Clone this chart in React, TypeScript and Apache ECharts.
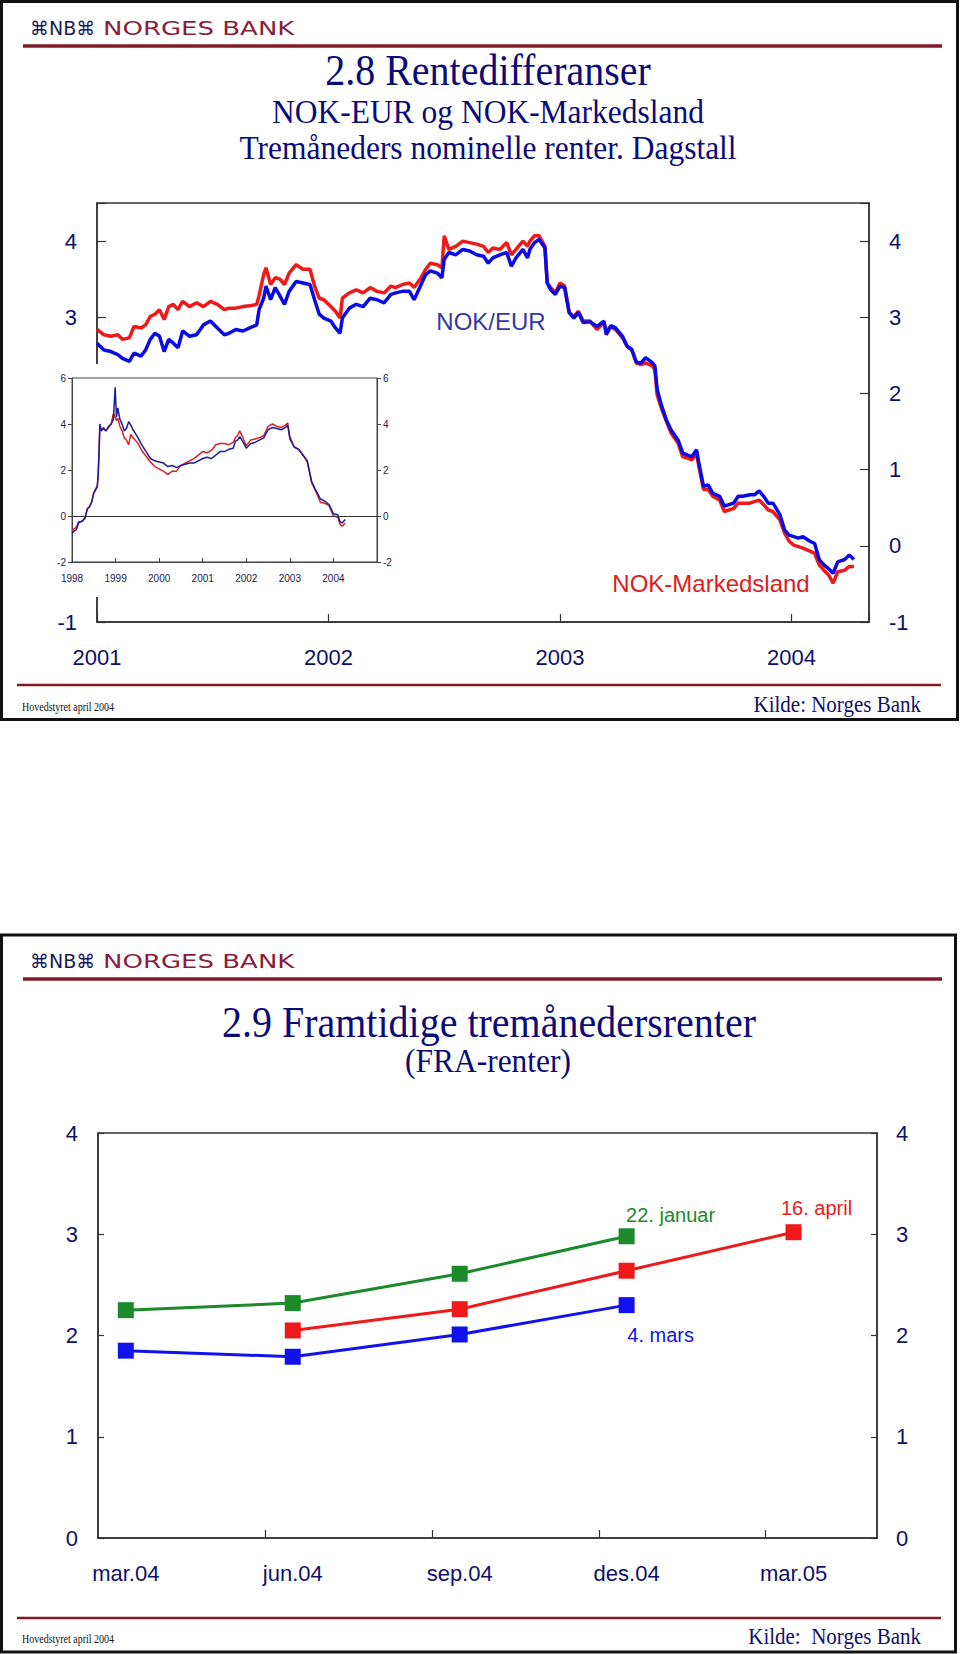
import React, { useEffect, useRef } from 'react';
import * as echarts from 'echarts';

// ---------- Chart 2.8 main panel (tremåneders rentedifferanse, dagstall) ----------
const mainYears = [
  2001.00, 2001.03, 2001.06, 2001.09, 2001.11, 2001.14, 2001.16, 2001.19, 2001.21, 2001.23,
  2001.25, 2001.27, 2001.29, 2001.31, 2001.33, 2001.35, 2001.37, 2001.40, 2001.43, 2001.46,
  2001.49, 2001.52, 2001.55, 2001.57, 2001.60, 2001.63, 2001.66, 2001.69, 2001.70, 2001.72,
  2001.73, 2001.75, 2001.77, 2001.79, 2001.81, 2001.83, 2001.86, 2001.89, 2001.92, 2001.94,
  2001.96, 2001.98, 2002.01, 2002.03, 2002.05, 2002.06, 2002.09, 2002.12, 2002.15, 2002.18,
  2002.21, 2002.24, 2002.27, 2002.29, 2002.32, 2002.35, 2002.37, 2002.40, 2002.42, 2002.44,
  2002.47, 2002.49, 2002.50, 2002.52, 2002.55, 2002.58, 2002.61, 2002.64, 2002.67, 2002.69,
  2002.71, 2002.74, 2002.77, 2002.79, 2002.81, 2002.84, 2002.86, 2002.87, 2002.89, 2002.91,
  2002.935, 2002.945, 2002.96, 2002.98, 2003.00, 2003.02, 2003.04, 2003.06, 2003.08, 2003.10,
  2003.13, 2003.16, 2003.19, 2003.20, 2003.22, 2003.24, 2003.27, 2003.29, 2003.31, 2003.33,
  2003.35, 2003.37, 2003.40, 2003.41, 2003.42, 2003.44, 2003.46, 2003.48, 2003.51, 2003.53,
  2003.55, 2003.57, 2003.59, 2003.60, 2003.62, 2003.64, 2003.66, 2003.69, 2003.71, 2003.73,
  2003.75, 2003.77, 2003.79, 2003.82, 2003.84, 2003.86, 2003.88, 2003.90, 2003.92, 2003.95,
  2003.97, 2003.99, 2004.01, 2004.03, 2004.05, 2004.08, 2004.10, 2004.12, 2004.14, 2004.16,
  2004.18, 2004.20, 2004.23, 2004.25, 2004.27,
];
const mainMarkedsland = [
  2.84, 2.77, 2.75, 2.77, 2.71, 2.73, 2.88, 2.86, 2.90, 3.01,
  3.04, 3.10, 2.97, 3.14, 3.17, 3.10, 3.21, 3.14, 3.19, 3.14,
  3.21, 3.17, 3.10, 3.12, 3.12, 3.14, 3.15, 3.17, 3.28, 3.56,
  3.65, 3.43, 3.52, 3.50, 3.43, 3.58, 3.69, 3.63, 3.63, 3.41,
  3.25, 3.23, 3.14, 3.08, 2.99, 3.25, 3.32, 3.36, 3.32, 3.39,
  3.34, 3.32, 3.41, 3.39, 3.43, 3.45, 3.39, 3.52, 3.63, 3.71,
  3.69, 3.65, 4.07, 3.89, 3.93, 4.00, 3.98, 3.96, 3.93, 3.85,
  3.91, 3.89, 3.98, 3.82, 3.89, 4.00, 3.93, 4.00, 4.07, 4.07,
  3.93, 3.45, 3.39, 3.32, 3.45, 3.41, 3.06, 3.01, 3.08, 2.95,
  2.95, 2.84, 2.93, 2.82, 2.88, 2.84, 2.73, 2.62, 2.57, 2.40,
  2.38, 2.40, 2.36, 2.31, 1.98, 1.79, 1.63, 1.48, 1.35, 1.17,
  1.15, 1.13, 1.21, 1.04, 0.74, 0.74, 0.65, 0.60, 0.45, 0.47,
  0.49, 0.56, 0.56, 0.56, 0.58, 0.60, 0.54, 0.47, 0.45, 0.34,
  0.17, 0.06, 0.01, -0.01, -0.03, -0.07, -0.10, -0.25, -0.32, -0.38,
  -0.49, -0.34, -0.32, -0.27, -0.27,
];
const mainEur = [
  2.66, 2.57, 2.55, 2.51, 2.46, 2.42, 2.53, 2.49, 2.57, 2.71,
  2.79, 2.75, 2.55, 2.71, 2.66, 2.60, 2.82, 2.75, 2.77, 2.90,
  2.95, 2.86, 2.77, 2.79, 2.84, 2.82, 2.86, 2.90, 3.10, 3.25,
  3.41, 3.23, 3.39, 3.28, 3.17, 3.34, 3.47, 3.45, 3.43, 3.23,
  3.04, 2.99, 2.95, 2.86, 2.79, 2.99, 3.12, 3.17, 3.14, 3.25,
  3.23, 3.19, 3.30, 3.32, 3.34, 3.34, 3.23, 3.43, 3.56, 3.61,
  3.58, 3.52, 3.76, 3.85, 3.82, 3.89, 3.87, 3.82, 3.80, 3.71,
  3.78, 3.82, 3.85, 3.67, 3.78, 3.89, 3.78, 3.89, 3.98, 4.02,
  3.91, 3.45, 3.36, 3.30, 3.41, 3.39, 3.06, 2.99, 3.06, 2.93,
  2.94, 2.88, 2.95, 2.77, 2.89, 2.86, 2.75, 2.62, 2.58, 2.41,
  2.40, 2.47, 2.40, 2.36, 2.05, 1.83, 1.65, 1.52, 1.39, 1.22,
  1.19, 1.17, 1.26, 1.09, 0.78, 0.80, 0.69, 0.65, 0.52, 0.54,
  0.56, 0.65, 0.65, 0.67, 0.67, 0.72, 0.65, 0.56, 0.56, 0.41,
  0.21, 0.14, 0.12, 0.10, 0.12, 0.06, 0.03, -0.18, -0.25, -0.30,
  -0.36, -0.21, -0.18, -0.12, -0.18,
];

// ---------- Chart 2.8 inset (1998-2004) ----------
const insetYears = [
  1998.0, 1998.05, 1998.1, 1998.15, 1998.2, 1998.25, 1998.3, 1998.35, 1998.4, 1998.45,
  1998.5, 1998.55, 1998.58, 1998.6, 1998.62, 1998.64, 1998.67, 1998.72, 1998.78, 1998.84,
  1998.9, 1998.95, 1998.99, 1999.02, 1999.05, 1999.1, 1999.15, 1999.2, 1999.25, 1999.3,
  1999.35, 1999.4, 1999.5, 1999.6, 1999.7, 1999.8, 1999.9, 2000.0, 2000.1, 2000.2,
  2000.3, 2000.4, 2000.5, 2000.6, 2000.7, 2000.8, 2000.9, 2001.0, 2001.1, 2001.2,
  2001.3, 2001.4, 2001.5, 2001.6, 2001.7, 2001.75, 2001.8, 2001.85, 2001.9, 2002.0,
  2002.1, 2002.2, 2002.3, 2002.4, 2002.5, 2002.6, 2002.7, 2002.8, 2002.9, 2002.95,
  2003.0, 2003.1, 2003.2, 2003.3, 2003.4, 2003.5, 2003.6, 2003.7, 2003.8, 2003.9,
  2004.0, 2004.1, 2004.15, 2004.2, 2004.27,
];
const insetMarkedsland = [
  -0.65, -0.55, -0.5, -0.25, -0.25, -0.2, -0.05, 0.3, 0.4, 0.6,
  1.0, 1.15, 1.25, 1.7, 2.7, 3.9, 3.75, 3.85, 3.7, 3.85,
  4.0, 4.45, 4.3, 4.15, 4.25, 3.9, 3.7, 3.4, 3.3, 3.1,
  3.55, 3.4, 3.2, 2.85, 2.6, 2.35, 2.15, 2.05, 1.95, 1.8,
  1.95, 1.95, 2.2, 2.3, 2.4, 2.5, 2.65, 2.8, 2.75, 2.85,
  3.1, 3.15, 3.15, 3.1, 3.2, 3.4, 3.5, 3.7, 3.5, 3.05,
  3.3, 3.35, 3.4, 3.5, 3.9, 4.0, 3.9, 3.85, 3.95, 4.05,
  3.45, 3.0, 2.9, 2.65, 2.35, 1.45, 1.05, 0.6, 0.55, 0.45,
  0.0, -0.05, -0.35, -0.45, -0.3,
];
const insetEur = [
  -0.75, -0.65, -0.6, -0.3, -0.25, -0.2, -0.1, 0.3, 0.4, 0.6,
  1.0, 1.2, 1.3, 1.8, 2.8, 4.0, 3.7, 3.8, 3.7, 3.9,
  4.0, 4.2, 5.6, 4.3, 4.7, 4.2, 4.0, 3.7, 3.8, 4.1,
  3.95, 3.75, 3.45, 3.1, 2.8, 2.5, 2.4, 2.35, 2.3, 2.15,
  2.2, 2.1, 2.2, 2.25, 2.3, 2.3, 2.4, 2.5, 2.55, 2.5,
  2.65, 2.8, 2.8, 2.9, 2.95, 3.25, 3.3, 3.45, 3.3, 2.95,
  3.15, 3.2, 3.3, 3.4, 3.75, 3.85, 3.8, 3.75, 3.85, 3.95,
  3.35, 3.0, 2.9, 2.65, 2.4, 1.5, 1.1, 0.75, 0.65, 0.5,
  0.1, 0.05, -0.25, -0.3, -0.15,
];

// ---------- Chart 2.9 (FRA-renter) ----------
const fraMonths = [0.5, 3.5, 6.5, 9.5, 12.5]; // months after 1 March 2004
const fraLabels = ['mar.04', 'jun.04', 'sep.04', 'des.04', 'mar.05'];
const fraQuarterTicks = [3, 6, 9, 12];
const fraJanuar = [2.25, 2.32, 2.61, 2.98, null];
const fraApril = [null, 2.05, 2.26, 2.64, 3.02];
const fraMars = [1.85, 1.79, 2.01, 2.30, null];

const SANS = '"Liberation Sans", Arial, sans-serif';
const SERIF = '"Liberation Serif", "Times New Roman", serif';
const NAVY = '#10106a';
const MAROON = '#7f1a26';

const pairs = (xs: number[], ys: number[]) => {
  const n = Math.min(xs.length, ys.length);
  const out: number[][] = [];
  for (let i = 0; i < n; i++) out.push([xs[i], ys[i]]);
  return out;
};

const intLabel = (v: number) => (Math.abs(v - Math.round(v)) < 1e-9 ? String(Math.round(v)) : '');

function txt(text: string, x: number, y: number, o: any = {}) {
  return {
    type: 'text',
    x,
    y,
    scaleX: o.scaleX ?? 1,
    scaleY: o.scaleY ?? 1,
    z: 20,
    style: {
      text,
      fill: o.fill ?? NAVY,
      fontSize: o.fontSize ?? 20,
      fontFamily: o.fontFamily ?? SERIF,
      textAlign: o.align ?? 'center',
      align: o.align ?? 'center',
      textVerticalAlign: 'middle',
      verticalAlign: 'middle',
    },
  };
}

function logo(y: number, lineY: number) {
  return [
    txt('⌘NB⌘', 30, y, { align: 'left', fontSize: 19, fontFamily: '"DejaVu Sans", sans-serif', fill: '#1a1a5c' }),
    txt('NORGES BANK', 103, y, { align: 'left', fontSize: 20, fontFamily: '"DejaVu Sans", sans-serif', fill: '#8a1c3c', scaleX: 1.3 }),
    { type: 'line', shape: { x1: 23, y1: lineY, x2: 942, y2: lineY }, style: { stroke: MAROON, lineWidth: 3.5 } },
  ];
}

function footer(lineY: number, textY: number, kilde: string) {
  return [
    { type: 'line', shape: { x1: 17, y1: lineY, x2: 941, y2: lineY }, style: { stroke: MAROON, lineWidth: 2.5 } },
    txt('Hovedstyret april 2004', 22, textY + 2, { align: 'left', fontSize: 10, fill: '#111', scaleY: 1.2 }),
    txt(kilde, 921, textY, { align: 'right', fontSize: 21, fill: NAVY, scaleY: 1.08 }),
  ];
}

function fraSeries(name: string, vals: (number | null)[], color: string, label: string, offset: number[]) {
  const data: any[] = [];
  vals.forEach((v, i) => {
    if (v !== null) data.push([fraMonths[i], v]);
  });
  const last = data.length - 1;
  const items = data.map((d, i) =>
    i === last
      ? {
          value: d,
          label: {
            show: true,
            formatter: label,
            position: 'inside',
            offset,
            color,
            fontSize: 20,
            fontFamily: SANS,
          },
        }
      : d
  );
  return {
    name,
    type: 'line',
    xAxisIndex: 1,
    yAxisIndex: 2,
    data: items,
    symbol: 'rect',
    symbolSize: 16,
    lineStyle: { color, width: 3 },
    itemStyle: { color },
    z: 3,
  };
}

function mainOption(): any {
  const axisLineStyle = { color: '#333', width: 1.5 };
  const yCommon = (gridIndex: number, position: string, min: number, max: number, margin: number, tickLen: number) => ({
    type: 'value',
    gridIndex,
    position,
    min,
    max,
    interval: 1,
    axisLine: { show: true, onZero: false, lineStyle: axisLineStyle },
    axisTick: { show: true, inside: true, length: tickLen, lineStyle: { color: '#333', width: 1.2 } },
    axisLabel: { formatter: intLabel, color: NAVY, fontSize: 22, fontFamily: SANS, margin },
    splitLine: { show: false },
  });
  return {
    animation: false,
    backgroundColor: '#fff',
    grid: [
      { left: 97, top: 203, width: 772, height: 419, show: true, borderColor: '#333', borderWidth: 1.5, backgroundColor: 'transparent' },
      { left: 98, top: 1133, width: 779, height: 405, show: true, borderColor: '#333', borderWidth: 1.5, backgroundColor: 'transparent' },
    ],
    xAxis: [
      {
        type: 'value',
        gridIndex: 0,
        min: 2001,
        max: 2004.335,
        interval: 1,
        axisLine: { show: true, onZero: false, lineStyle: axisLineStyle },
        axisTick: { show: true, inside: true, length: 8, lineStyle: { color: '#333', width: 1.2 } },
        axisLabel: { formatter: intLabel, color: NAVY, fontSize: 22, fontFamily: SANS, margin: 24 },
        splitLine: { show: false },
      },
      {
        type: 'value',
        gridIndex: 1,
        min: 0,
        max: 14,
        axisLine: { show: true, onZero: false, lineStyle: axisLineStyle },
        axisTick: { show: true, inside: true, length: 8, customValues: fraQuarterTicks, lineStyle: { color: '#333', width: 1.2 } },
        axisLabel: {
          customValues: fraMonths,
          formatter: (v: number) => {
            const i = fraMonths.findIndex((m) => Math.abs(m - v) < 1e-6);
            return i >= 0 ? fraLabels[i] : '';
          },
          color: NAVY,
          fontSize: 22,
          fontFamily: SANS,
          margin: 24,
        },
        splitLine: { show: false },
      },
    ],
    yAxis: [
      yCommon(0, 'left', -1, 4.5, 20, 9),
      yCommon(0, 'right', -1, 4.5, 20, 9),
      yCommon(1, 'left', 0, 4, 20, 6),
      yCommon(1, 'right', 0, 4, 19, 6),
    ],
    graphic: {
      elements: [
        { type: 'rect', shape: { x: 1.5, y: 1.5, width: 956, height: 718 }, style: { fill: 'none', stroke: '#111', lineWidth: 3 }, z: 20 },
        { type: 'rect', shape: { x: 1.5, y: 935, width: 954, height: 717 }, style: { fill: 'none', stroke: '#111', lineWidth: 3 }, z: 20 },
        ...logo(28, 46),
        txt('2.8 Rentedifferanser', 488, 70, { fontSize: 40, scaleY: 1.1, fill: '#0b0b78' }),
        txt('NOK-EUR og NOK-Markedsland', 488, 112, { fontSize: 31.5, scaleY: 1.05, fill: '#0b0b78' }),
        txt('Tremåneders nominelle renter. Dagstall', 488, 148, { fontSize: 31.5, scaleY: 1.05, fill: '#0b0b78' }),
        txt('NOK/EUR', 491, 321, { fontSize: 24, fontFamily: SANS, fill: '#3838a4' }),
        txt('NOK-Markedsland', 711, 583, { fontSize: 24, fontFamily: SANS, fill: '#e01c1c' }),
        ...footer(685, 705, 'Kilde: Norges Bank'),
        ...logo(961, 979),
        txt('2.9 Framtidige tremånedersrenter', 489, 1022, { fontSize: 40, scaleY: 1.1, fill: '#0b0b78' }),
        txt('(FRA-renter)', 488, 1061, { fontSize: 31.5, scaleY: 1.05, fill: '#0b0b78' }),
        ...footer(1618, 1637, 'Kilde:  Norges Bank'),
      ],
    },
    series: [
      {
        name: 'NOK-Markedsland',
        type: 'line',
        xAxisIndex: 0,
        yAxisIndex: 0,
        data: pairs(mainYears, mainMarkedsland),
        showSymbol: false,
        symbol: 'none',
        lineStyle: { color: '#ee1a1a', width: 3.5 },
        itemStyle: { color: '#ee1a1a' },
        z: 2,
      },
      {
        name: 'NOK/EUR',
        type: 'line',
        xAxisIndex: 0,
        yAxisIndex: 0,
        data: pairs(mainYears, mainEur),
        showSymbol: false,
        symbol: 'none',
        lineStyle: { color: '#0a0ae6', width: 3.5 },
        itemStyle: { color: '#0a0ae6' },
        z: 2,
      },
      fraSeries('22. januar', fraJanuar, '#1a8a2a', '22. januar', [44, -21]),
      fraSeries('16. april', fraApril, '#f01818', '16. april', [23, -24]),
      fraSeries('4. mars', fraMars, '#1212ee', '4. mars', [34, 30]),
    ],
  };
}

function insetOption(): any {
  const line = { color: '#444', width: 1 };
  const yAx = (position: string) => ({
    type: 'value',
    position,
    min: -2,
    max: 6,
    interval: 2,
    axisLine: { show: true, onZero: false, lineStyle: line },
    axisTick: { show: true, inside: false, length: 4, lineStyle: line },
    axisLabel: { color: '#1a1a50', fontSize: 10, fontFamily: SANS, margin: 6 },
    splitLine: { show: false },
  });
  return {
    animation: false,
    backgroundColor: '#fff',
    grid: { left: 62, top: 14, width: 305, height: 184, show: true, borderColor: '#444', borderWidth: 1 },
    xAxis: {
      type: 'value',
      min: 1998,
      max: 2005,
      interval: 1,
      axisLine: { show: true, onZero: false, lineStyle: line },
      axisTick: { show: true, inside: true, length: 4, lineStyle: line },
      axisLabel: {
        color: '#1a1a50',
        fontSize: 10,
        fontFamily: SANS,
        margin: 11,
        formatter: (v: number) => (v < 2005 ? intLabel(v) : ''),
      },
      splitLine: { show: false },
    },
    yAxis: [yAx('left'), yAx('right')],
    series: [
      {
        name: 'NOK-Markedsland',
        type: 'line',
        yAxisIndex: 0,
        data: pairs(insetYears, insetMarkedsland),
        showSymbol: false,
        symbol: 'none',
        lineStyle: { color: '#d42424', width: 1.5 },
        itemStyle: { color: '#d42424' },
      },
      {
        name: 'NOK/EUR',
        type: 'line',
        yAxisIndex: 0,
        data: pairs(insetYears, insetEur),
        showSymbol: false,
        symbol: 'none',
        lineStyle: { color: '#1c1c9c', width: 1.5 },
        itemStyle: { color: '#1c1c9c' },
        markLine: {
          silent: true,
          symbol: 'none',
          label: { show: false },
          lineStyle: { color: '#333', width: 1, type: 'solid' },
          data: [{ yAxis: 0 }],
        },
      },
    ],
  };
}

export default function App() {
  const mainRef = useRef<HTMLDivElement>(null);
  const insetRef = useRef<HTMLDivElement>(null);
  useEffect(() => {
    const main = echarts.init(mainRef.current as HTMLDivElement, null, { renderer: 'svg' });
    const inset = echarts.init(insetRef.current as HTMLDivElement, null, { renderer: 'svg' });
    main.setOption(mainOption());
    inset.setOption(insetOption());
    return () => {
      main.dispose();
      inset.dispose();
    };
  }, []);
  return (
    <div style={{ position: 'absolute', left: 0, top: 0, width: 960, height: 1654, background: '#fff' }}>
      <div ref={mainRef} style={{ position: 'absolute', left: 0, top: 0, width: 960, height: 1654 }} />
      <div
        ref={insetRef}
        style={{ position: 'absolute', left: 10, top: 364, width: 400, height: 233, background: '#fff', zIndex: 2 }}
      />
    </div>
  );
}
